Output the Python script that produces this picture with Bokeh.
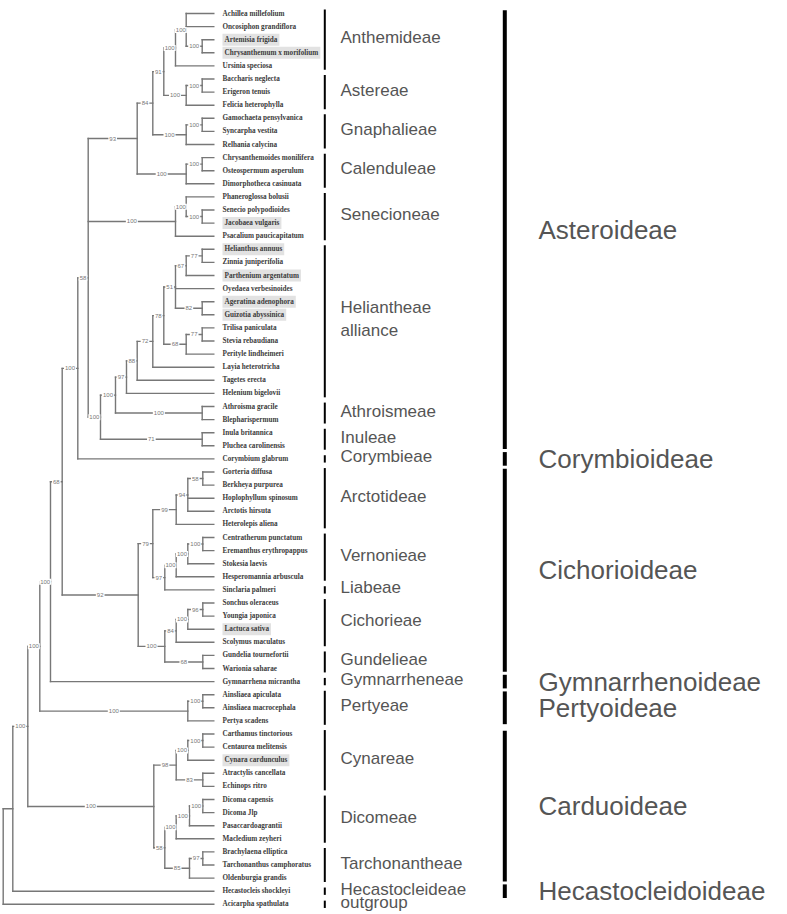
from bokeh.plotting import figure
from bokeh.models import Range1d
from bokeh.core.properties import value
from bokeh.embed import file_html
from bokeh.resources import INLINE

# ---------------- data ----------------
leaf_names = [
    "Achillea millefolium", "Oncosiphon grandiflora", "Artemisia frigida",
    "Chrysanthemum x morifolium", "Ursinia speciosa", "Baccharis neglecta",
    "Erigeron tenuis", "Felicia heterophylla", "Gamochaeta pensylvanica",
    "Syncarpha vestita", "Relhania calycina", "Chrysanthemoides monilifera",
    "Osteospermum asperulum", "Dimorphotheca casinuata", "Phaneroglossa  bolusii",
    "Senecio polypodioides", "Jacobaea vulgaris", "Psacalium paucicapitatum",
    "Helianthus annuus", "Zinnia juniperifolia", "Parthenium argentatum",
    "Oyedaea verbesinoides", "Ageratina adenophora", "Guizotia abyssinica",
    "Trilisa paniculata", "Stevia rebaudiana", "Perityle lindheimeri",
    "Layia heterotricha", "Tagetes erecta", "Helenium bigelovii",
    "Athroisma gracile", "Blepharispermum", "Inula britannica",
    "Pluchea carolinensis", "Corymbium glabrum", "Gorteria diffusa",
    "Berkheya purpurea", "Hoplophyllum spinosum", "Arctotis hirsuta",
    "Heterolepis aliena", "Centratherum punctatum", "Eremanthus erythropappus",
    "Stokesia laevis", "Hesperomannia arbuscula", "Sinclaria palmeri",
    "Sonchus oleraceus", "Youngia japonica", "Lactuca sativa",
    "Scolymus maculatus", "Gundelia tournefortii", "Warionia saharae",
    "Gymnarrhena micrantha", "Ainsliaea apiculata", "Ainsliaea macrocephala",
    "Pertya scadens", "Carthamus tinctorious", "Centaurea melitensis",
    "Cynara cardunculus", "Atractylis cancellata", "Echinops ritro",
    "Dicoma capensis", "Dicoma Jlp", "Pasaccardoagrantii", "Macledium zeyheri",
    "Brachylaena elliptica", "Tarchonanthus camphoratus", "Oldenburgia grandis",
    "Hecastocleis shockleyi", "Acicarpha spathulata",
]
leaf_parent = [
    12, 12, 13, 13, 11, 15, 15, 14, 17, 17, 16, 19, 19, 18, 21, 22, 22, 20,
    31, 31, 30, 29, 32, 32, 34, 34, 33, 27, 26, 25, 35, 35, 36, 36, 6,
    41, 41, 40, 40, 39, 45, 45, 44, 43, 42, 49, 49, 48, 47, 50, 50, 4,
    52, 52, 51, 56, 56, 55, 57, 57, 61, 61, 60, 59, 63, 63, 62, 1, 0,
]
highlighted = [
    "Artemisia frigida", "Chrysanthemum x morifolium", "Jacobaea vulgaris",
    "Helianthus annuus", "Parthenium argentatum", "Ageratina adenophora",
    "Guizotia abyssinica", "Lactuca sativa", "Cynara cardunculus",
]

# internal nodes (id = index): parent, depth (horizontal position), bootstrap
node_parent = [
    None, 0, 1, 2, 3, 4, 5, 6, 7, 8, 9, 10, 11, 12, 10, 14, 9, 16, 8, 18,
    7, 20, 21, 7, 23, 24, 25, 26, 27, 28, 29, 30, 29, 28, 33, 24, 23,
    5, 37, 38, 39, 40, 38, 42, 43, 44, 37, 46, 47, 48, 46,
    3, 51, 2, 53, 54, 55, 54, 53, 58, 59, 60, 58, 62,
]
node_depth = [
    2.7, 12.3, 27.3, 39.3, 50.0, 61.7, 77.3, 87.7, 136.7, 152.3, 163.3, 175.0,
    185.7, 201.7, 185.7, 201.7, 185.7, 201.7, 185.7, 201.7, 175.0, 185.7, 201.7,
    100.0, 115.0, 126.0, 136.7, 152.3, 163.3, 175.0, 185.7, 201.7, 201.7, 185.7,
    201.7, 201.7, 201.7,
    137.7, 152.3, 175.7, 187.3, 202.3, 164.3, 175.7, 187.3, 202.3, 164.3, 175.7,
    187.3, 202.3, 202.3,
    187.3, 202.3, 153.3, 175.7, 187.3, 202.3, 202.3, 164.3, 175.7, 189.0, 202.3,
    189.0, 202.3,
]
node_support = [
    None, None, 100, 100, 100, 68, 100, 58, 93, 84, 91, 100, 100, 100, 100, 100,
    100, 100, 100, 100, 100, 100, 100, 100, 100, 97, 88, 72, 78, 51, 67, 77, 82,
    68, 77, 100, 71,
    92, 79, 99, 94, 58, 97, 100, 100, 100, 100, 84, 100, 96, 68,
    100, 100, 100, 98, 100, 100, 83, 58, 100, 100, 100, 85, 97,
]
tip_depth = 213.3

tribe_names = [
    "Anthemideae", "Astereae", "Gnaphalieae", "Calenduleae", "Senecioneae",
    "Heliantheae\nalliance", "Athroismeae", "Inuleae", "Corymbieae",
    "Arctotideae", "Vernonieae", "Liabeae", "Cichorieae", "Gundelieae",
    "Gymnarrheneae", "Pertyeae", "Cynareae", "Dicomeae", "Tarchonantheae",
    "Hecastocleideae", "outgroup",
]
tribe_first = [0, 5, 8, 11, 14, 18, 30, 32, 34, 35, 40, 44, 45, 49, 51, 52, 55, 60, 64, 67, 68]
tribe_last = [4, 7, 10, 13, 17, 29, 31, 33, 34, 39, 43, 44, 48, 50, 51, 54, 59, 63, 66, 67, 68]

subfamily_names = [
    "Asteroideae", "Corymbioideae", "Cichorioideae", "Gymnarrhenoideae",
    "Pertyoideae", "Carduoideae", "Hecastocleidoideae",
]
subfamily_first = [0, 34, 35, 51, 52, 55, 67]
subfamily_last = [33, 34, 50, 51, 54, 66, 67]

# ---------------- layout of the tree ----------------
n_nodes = len(node_parent)
child_y = [[] for _ in range(n_nodes)]
for i, par in enumerate(leaf_parent):
    child_y[par].append(float(i))
node_y = [0.0] * n_nodes
for nid in range(n_nodes - 1, -1, -1):
    ys = child_y[nid]
    node_y[nid] = (min(ys) + max(ys)) / 2.0
    if node_parent[nid] is not None:
        child_y[node_parent[nid]].append(node_y[nid])

x0, y0, x1, y1 = [], [], [], []
for i, par in enumerate(leaf_parent):
    x0.append(node_depth[par]); x1.append(tip_depth); y0.append(float(i)); y1.append(float(i))
for nid in range(n_nodes):
    par = node_parent[nid]
    if par is not None:
        x0.append(node_depth[par]); x1.append(node_depth[nid])
        y0.append(node_y[nid]); y1.append(node_y[nid])
    ys = child_y[nid]
    x0.append(node_depth[nid]); x1.append(node_depth[nid])
    y0.append(min(ys)); y1.append(max(ys))

bs_x, bs_y, bs_t = [], [], []
for nid in range(n_nodes):
    if node_support[nid] is not None and node_parent[nid] is not None:
        bs_x.append((node_depth[node_parent[nid]] + node_depth[nid]) / 2.0)
        bs_y.append(node_y[nid])
        bs_t.append(str(node_support[nid]))

# ---------------- figure ----------------
W, H = 787, 914
row_px = 13.1
top_px = 13.0
p = figure(width=W, height=H, output_backend="svg", toolbar_location=None,
           x_range=Range1d(0, W),
           y_range=Range1d((H - top_px) / row_px, -top_px / row_px),
           min_border=0)
p.axis.visible = False
p.grid.visible = False
p.outline_line_color = None
p.background_fill_color = "white"

p.segment(x0=x0, y0=y0, x1=x1, y1=y1, line_color="#777777", line_width=1.4,
          line_cap="square")

# bootstrap values
p.text(x=bs_x, y=bs_y, text=bs_t, text_align="center", text_baseline="middle",
       text_font=value("Liberation Sans"), text_font_size="6px",
       text_color="#777777", background_fill_color="white", padding=1)

# leaf labels
lab_x = 222.0
norm_idx = [i for i, n in enumerate(leaf_names) if n not in highlighted]
hi_idx = [i for i, n in enumerate(leaf_names) if n in highlighted]
p.text(x=[lab_x] * len(norm_idx), y=[float(i) for i in norm_idx],
       text=[leaf_names[i] for i in norm_idx], text_baseline="middle",
       text_font=value("Liberation Serif"), text_font_style="bold",
       text_font_size="7.2px", text_color="#3c3c3c")
p.text(x=[lab_x] * len(hi_idx), y=[float(i) for i in hi_idx],
       text=[leaf_names[i] for i in hi_idx], text_baseline="middle",
       text_font=value("Liberation Serif"), text_font_style="bold",
       text_font_size="7.2px", text_color="#3c3c3c",
       background_fill_color="#e2e2e2", padding=2)

# tribe brackets
tx = 324.3
tb0 = [f - (0.3 if f != l else 0.28) for f, l in zip(tribe_first, tribe_last)]
tb1 = [l + (0.3 if f != l else 0.28) for f, l in zip(tribe_first, tribe_last)]
p.segment(x0=[tx] * len(tb0), x1=[tx] * len(tb0), y0=tb0, y1=tb1,
          line_color="black", line_width=2)
p.text(x=[340.0] * len(tribe_names),
       y=[(f + l) / 2.0 for f, l in zip(tribe_first, tribe_last)],
       text=tribe_names, text_baseline="middle", y_offset=-2,
       text_font=value("Liberation Sans"), text_font_size="17px",
       text_color="#555555", text_line_height=1.2)

# subfamily bars
sx = 504.3
sb0 = [f - (0.25 if f != l else 0.52) for f, l in zip(subfamily_first, subfamily_last)]
sb1 = [l + (0.25 if f != l else 0.52) for f, l in zip(subfamily_first, subfamily_last)]
p.segment(x0=[sx] * len(sb0), x1=[sx] * len(sb0), y0=sb0, y1=sb1,
          line_color="black", line_width=4)
p.text(x=[538.0] * len(subfamily_names),
       y=[(f + l) / 2.0 for f, l in zip(subfamily_first, subfamily_last)],
       text=subfamily_names, text_baseline="middle",
       text_font=value("Liberation Sans"), text_font_size="26px",
       text_color="#555555")

open("out.html", "w").write(file_html(p, INLINE))
